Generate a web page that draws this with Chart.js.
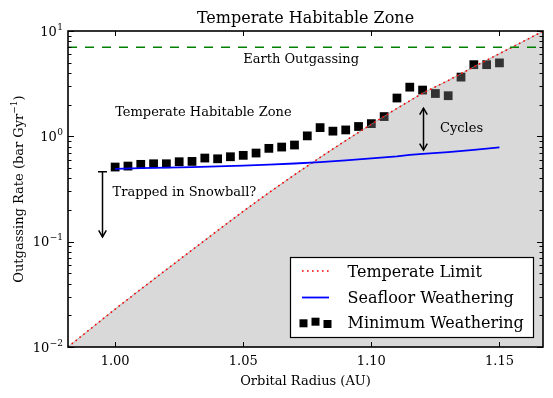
<!DOCTYPE html>
<html>
<head>
    <script src="https://cdn.jsdelivr.net/npm/chart.js@4.4.0/dist/chart.umd.min.js"></script>
    <style>
        body { margin: 0; background: #fff; }
        canvas { display: block; }
    </style>
</head>
<body>
    <canvas id="grafico" width="553" height="398"></canvas>

    <script>
        // orbital radius of each minimum weathering run (AU)
        const raggi = [1.000, 1.005, 1.010, 1.015, 1.020, 1.025, 1.030, 1.035, 1.040, 1.045,
                       1.050, 1.055, 1.060, 1.065, 1.070, 1.075, 1.080, 1.085, 1.090, 1.095,
                       1.100, 1.105, 1.110, 1.115, 1.120, 1.125, 1.130, 1.135, 1.140, 1.145, 1.150];
        // outgassing rate needed with minimum weathering (bar/Gyr)
        const minWeathering = [0.511, 0.522, 0.542, 0.549, 0.549, 0.574, 0.578, 0.622, 0.612, 0.640,
                               0.660, 0.694, 0.769, 0.791, 0.827, 1.01, 1.21, 1.12, 1.15, 1.24,
                               1.32, 1.54, 2.31, 2.93, 2.75, 2.55, 2.43, 3.65, 4.79, 4.79, 4.98];

        const seafloorX = [1.00, 1.01, 1.02, 1.03, 1.04, 1.05, 1.06, 1.07, 1.08, 1.09,
                           1.10, 1.11, 1.115, 1.12, 1.13, 1.14, 1.15];
        const seafloorRate = [0.492, 0.498, 0.504, 0.511, 0.518, 0.527, 0.538, 0.552, 0.570, 0.592,
                              0.617, 0.645, 0.667, 0.680, 0.708, 0.745, 0.786];

        const limitX = [0.98, 0.99, 1.00, 1.01, 1.02, 1.03, 1.04, 1.05, 1.06, 1.07, 1.08,
                        1.09, 1.10, 1.11, 1.12, 1.13, 1.14, 1.15, 1.16, 1.17];
        const limitRate = [0.00933, 0.01462, 0.02291, 0.03532, 0.0543, 0.0832, 0.1274, 0.1941, 0.2917, 0.4315, 0.631,
                           0.912, 1.303, 1.841, 2.570, 3.388, 4.571, 6.095, 8.128, 10.84];

        const earthOutgassing = 7.0;

        const xMin = 0.9816, xMax = 1.167;
        const xTicks = [1.00, 1.05, 1.10, 1.15];
        const yTicks = [0.01, 0.1, 1, 10];
        const yEsponenti = ['\u22122', '\u22121', '0', '1'];

        const serif = '"DejaVu Serif", serif';

        function punti(xs, ys) {
            return xs.map((x, i) => ({ x: x, y: ys[i] }));
        }

        // open arrowhead at (x, y) pointing along (dx, dy)
        function punta(ctx, x, y, dx, dy) {
            const len = Math.hypot(dx, dy);
            const ux = dx / len, uy = dy / len;
            const L = 6.5, W = 3.8;
            ctx.beginPath();
            ctx.moveTo(x - ux * L - uy * W, y - uy * L + ux * W);
            ctx.lineTo(x, y);
            ctx.lineTo(x - ux * L + uy * W, y - uy * L - ux * W);
            ctx.stroke();
        }

        const decorazioni = {
            id: 'decorazioni',
            afterDraw(chart) {
                const ctx = chart.ctx;
                const a = chart.chartArea;
                const xs = chart.scales.x, ys = chart.scales.y;
                ctx.save();

                // frame
                ctx.strokeStyle = '#000';
                ctx.lineWidth = 1.6;
                ctx.strokeRect(a.left, a.top, a.right - a.left, a.bottom - a.top);

                // inward ticks on all four sides
                ctx.lineWidth = 1;
                ctx.beginPath();
                xTicks.forEach(v => {
                    const px = Math.round(xs.getPixelForValue(v)) + 0.5;
                    ctx.moveTo(px, a.bottom); ctx.lineTo(px, a.bottom - 5);
                    ctx.moveTo(px, a.top); ctx.lineTo(px, a.top + 5);
                });
                for (let e = -2; e <= 1; e++) {
                    for (let m = 1; m <= 9; m++) {
                        const v = m * Math.pow(10, e);
                        if (v > 10.0001) continue;
                        const py = Math.round(ys.getPixelForValue(v)) + 0.5;
                        const len = m === 1 ? 6 : 3.5;
                        ctx.moveTo(a.left, py); ctx.lineTo(a.left + len, py);
                        ctx.moveTo(a.right, py); ctx.lineTo(a.right - len, py);
                    }
                }
                ctx.stroke();

                ctx.fillStyle = '#000';
                ctx.textBaseline = 'alphabetic';

                // x tick labels
                ctx.font = '13px ' + serif;
                ctx.textAlign = 'center';
                xTicks.forEach(v => {
                    ctx.fillText(v.toFixed(2), xs.getPixelForValue(v), a.bottom + 18);
                });

                // y tick labels 10^n
                yTicks.forEach((v, i) => {
                    const py = ys.getPixelForValue(v);
                    ctx.font = '9px ' + serif;
                    const we = ctx.measureText(yEsponenti[i]).width;
                    ctx.textAlign = 'right';
                    ctx.fillText(yEsponenti[i], a.left - 5, py - 1.5);
                    ctx.font = '13px ' + serif;
                    ctx.fillText('10', a.left - 5 - we - 0.5, py + 4.8);
                });

                // axis titles
                ctx.font = '13px ' + serif;
                ctx.textAlign = 'center';
                ctx.fillText('Orbital Radius (AU)', (a.left + a.right) / 2, a.bottom + 38);

                ctx.save();
                ctx.translate(23, (a.top + a.bottom) / 2);
                ctx.rotate(-Math.PI / 2);
                ctx.textAlign = 'left';
                const p1 = 'Outgassing Rate (bar Gyr', p2 = '\u22121', p3 = ')';
                ctx.font = '13px ' + serif;
                const w1 = ctx.measureText(p1).width, w3 = ctx.measureText(p3).width;
                ctx.font = '9px ' + serif;
                const w2 = ctx.measureText(p2).width;
                let x0 = -(w1 + w2 + w3) / 2;
                ctx.font = '13px ' + serif;
                ctx.fillText(p1, x0, 0);
                ctx.font = '9px ' + serif;
                ctx.fillText(p2, x0 + w1, -6);
                ctx.font = '13px ' + serif;
                ctx.fillText(p3, x0 + w1 + w2, 0);
                ctx.restore();

                // title
                ctx.font = '16px ' + serif;
                ctx.textAlign = 'center';
                ctx.fillText('Temperate Habitable Zone', (a.left + a.right) / 2, 23);

                // annotations in data coordinates
                ctx.font = '13px ' + serif;
                ctx.textAlign = 'left';
                const testo = (t, x, y) => ctx.fillText(t, xs.getPixelForValue(x), ys.getPixelForValue(y));
                testo('Earth Outgassing', 1.05, 5.0);
                testo('Temperate Habitable Zone', 1.0, 1.55);
                testo('Trapped in Snowball?', 0.999, 0.27);
                testo('Cycles', 1.1268, 1.1);

                // arrows
                ctx.lineWidth = 1.5;
                ctx.strokeStyle = '#000';
                let ax = Math.round(xs.getPixelForValue(0.995)) + 0.5;
                let y1 = ys.getPixelForValue(0.46), y2 = ys.getPixelForValue(0.111);
                ctx.beginPath();
                ctx.moveTo(ax, y1); ctx.lineTo(ax, y2);
                ctx.moveTo(ax - 4.5, y1); ctx.lineTo(ax + 4.5, y1);
                ctx.stroke();
                punta(ctx, ax, y2, 0, 1);

                ax = Math.round(xs.getPixelForValue(1.12)) + 0.5;
                y1 = ys.getPixelForValue(1.85); y2 = ys.getPixelForValue(0.74);
                ctx.beginPath();
                ctx.moveTo(ax, y1); ctx.lineTo(ax, y2);
                ctx.stroke();
                punta(ctx, ax, y1, 0, -1);
                punta(ctx, ax, y2, 0, 1);

                // legend
                const lx = 290.5, ly = 257.5, lw = 243, lh = 80;
                ctx.fillStyle = '#fff';
                ctx.fillRect(lx, ly, lw, lh);
                ctx.lineWidth = 1.2;
                ctx.strokeStyle = '#000';
                ctx.strokeRect(lx, ly, lw, lh);

                const righe = [271, 297, 322];
                ctx.lineWidth = 1.6;
                ctx.strokeStyle = 'red';
                ctx.setLineDash([1.6, 3.4]);
                ctx.beginPath(); ctx.moveTo(302, righe[0]); ctx.lineTo(329, righe[0]); ctx.stroke();
                ctx.setLineDash([]);
                ctx.lineWidth = 1.8;
                ctx.strokeStyle = 'blue';
                ctx.beginPath(); ctx.moveTo(302, righe[1] + 0.5); ctx.lineTo(329, righe[1] + 0.5); ctx.stroke();
                ctx.fillStyle = '#000';
                [[303.5, 1.3], [315.5, -0.3], [327.5, 2]].forEach(([qx, dy]) => {
                    ctx.fillRect(qx - 4, righe[2] + dy - 4, 8, 8);
                });

                ctx.font = '16px ' + serif;
                ctx.textAlign = 'left';
                ctx.fillText('Temperate Limit', 347.5, righe[0] + 6);
                ctx.fillText('Seafloor Weathering', 347.5, righe[1] + 6);
                ctx.fillText('Minimum Weathering', 347.5, righe[2] + 6);

                ctx.restore();
            }
        };

        const ctx = document.getElementById('grafico').getContext('2d');
        const chart = new Chart(ctx, {
            type: 'line',
            data: {
                datasets: [{
                    label: 'Minimum Weathering',
                    data: punti(raggi, minWeathering),
                    showLine: false,
                    pointStyle: 'rect',
                    pointRadius: 6.2,
                    pointBackgroundColor: '#000',
                    pointBorderWidth: 0,
                    order: 4
                }, {
                    // grey habitable region under the temperate limit
                    label: 'Limit fill',
                    data: punti(limitX, limitRate),
                    borderColor: 'rgba(150,150,150,0.7)',
                    borderWidth: 1,
                    pointRadius: 0,
                    fill: 'start',
                    backgroundColor: 'rgba(146,146,146,0.35)',
                    order: 3
                }, {
                    label: 'Temperate Limit',
                    data: punti(limitX, limitRate),
                    borderColor: 'red',
                    borderWidth: 1.6,
                    borderDash: [1.6, 3.4],
                    pointRadius: 0,
                    fill: false,
                    order: 2
                }, {
                    label: 'Seafloor Weathering',
                    data: punti(seafloorX, seafloorRate),
                    borderColor: 'blue',
                    borderWidth: 1.8,
                    pointRadius: 0,
                    fill: false,
                    order: 1
                }, {
                    label: 'Earth Outgassing',
                    data: [{ x: xMin, y: earthOutgassing }, { x: xMax, y: earthOutgassing }],
                    borderColor: 'green',
                    borderWidth: 1.5,
                    borderDash: [9, 8],
                    pointRadius: 0,
                    fill: false,
                    order: 0
                }]
            },
            options: {
                responsive: false,
                animation: false,
                devicePixelRatio: 1,
                layout: { padding: { top: 31, right: 10, left: 0, bottom: 0 } },
                scales: {
                    x: {
                        type: 'linear', min: xMin, max: xMax,
                        ticks: { display: false },
                        grid: { display: false },
                        border: { display: false },
                        afterFit: s => { s.height = 51; }
                    },
                    y: {
                        type: 'logarithmic', min: 0.01, max: 10,
                        ticks: { display: false },
                        grid: { display: false },
                        border: { display: false },
                        afterFit: s => { s.width = 68; }
                    }
                },
                plugins: {
                    legend: { display: false },
                    tooltip: { enabled: false },
                    filler: { drawTime: 'beforeDatasetDraw' }
                }
            },
            plugins: [decorazioni]
        });
    </script>
</body>
</html>
